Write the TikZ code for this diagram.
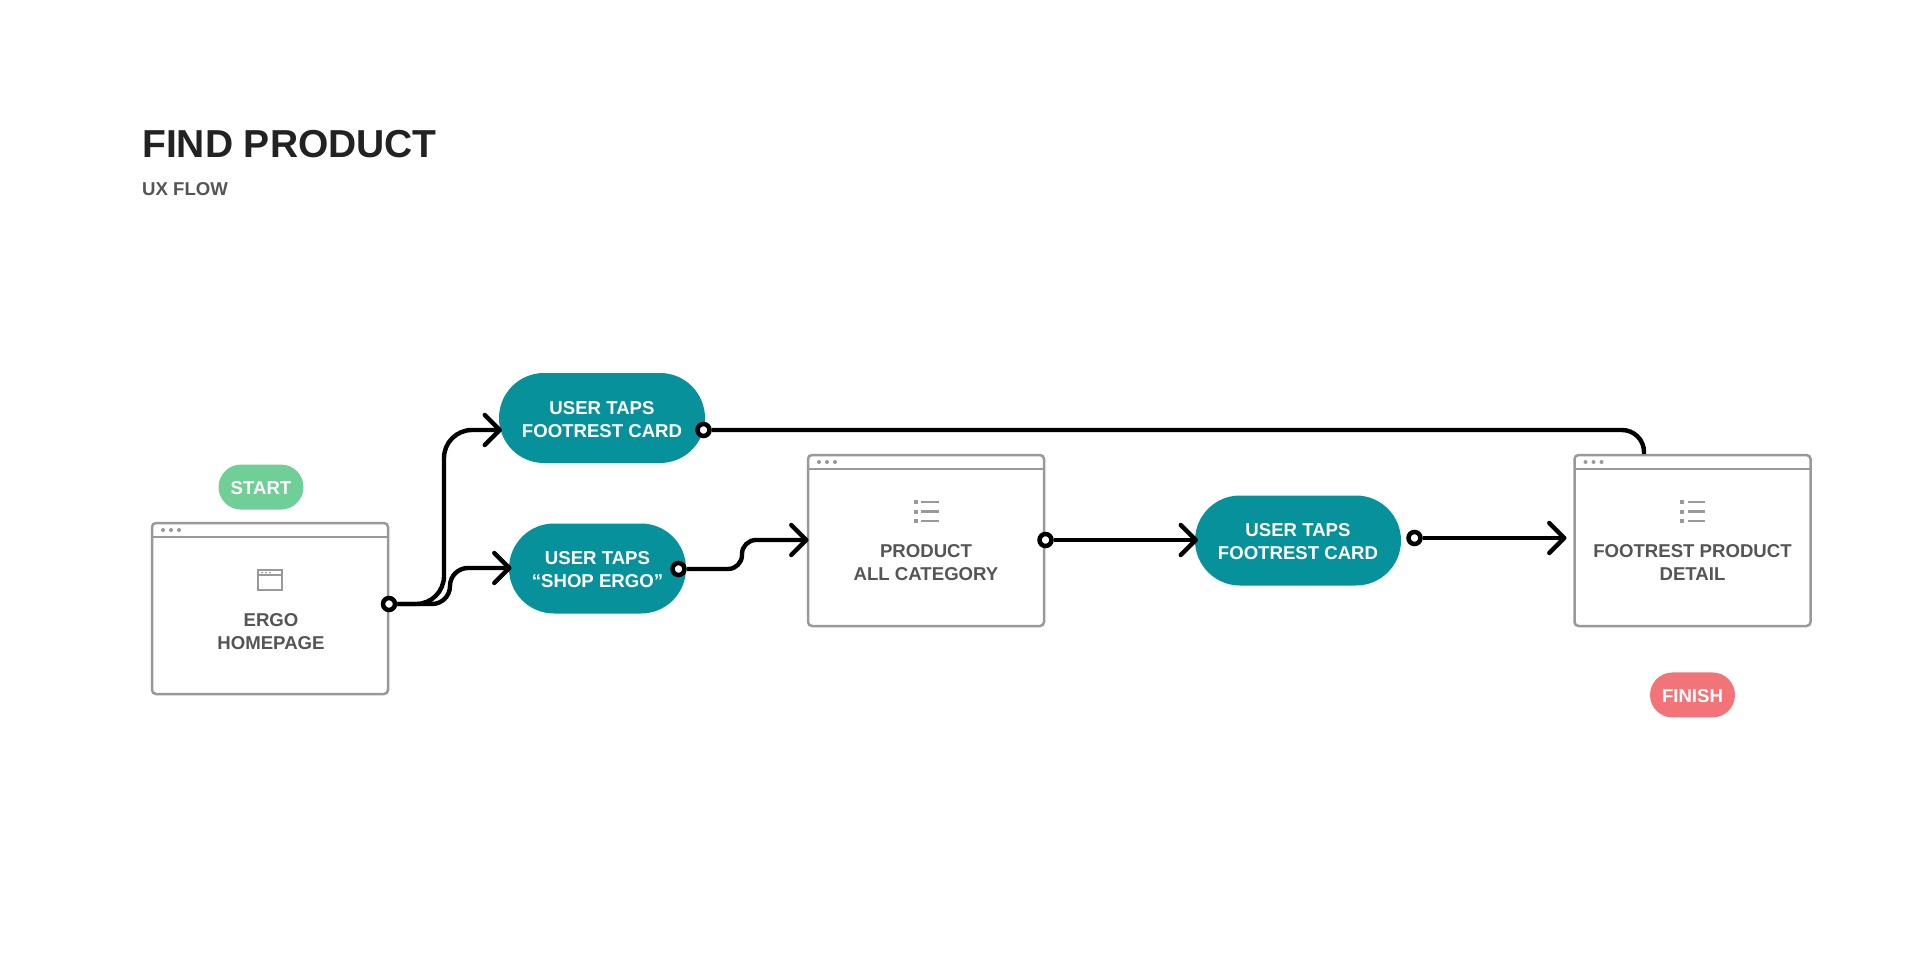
\documentclass[tikz,border=0pt]{standalone}
\usepackage{fontspec}
\setmainfont{Liberation Sans}
\usepackage{xcolor}
\definecolor{tealpill}{RGB}{7, 145, 155}
\definecolor{startgreen}{RGB}{112, 207, 151}
\definecolor{finishred}{RGB}{242, 116, 120}
\definecolor{framegray}{RGB}{153, 153, 153}
\definecolor{labelgray}{RGB}{85, 85, 85}
\definecolor{titleblack}{RGB}{34, 34, 34}
\usetikzlibrary{shapes.misc,arrows.meta,positioning,calc}

\begin{document}
\begin{tikzpicture}[
    x=1pt, y=-1pt,
    window/.style={rectangle, draw=framegray, line width=2.5pt, rounded corners=4pt, minimum width=236pt, minimum height=171pt, inner sep=0pt,
        path picture={
            \draw[framegray, line width=1.4pt] ($(path picture bounding box.north west)+(0,14)$) -- ($(path picture bounding box.north east)+(0,14)$);
            \foreach \dotx in {11,19,27}
                \fill[framegray] ($(path picture bounding box.north west)+(\dotx,7)$) circle (2pt);
        }},
    action/.style={rounded rectangle, fill=tealpill, text=white, minimum width=206pt, minimum height=90pt, inner sep=0pt, align=center, font=\fontsize{18.6}{23}\selectfont\bfseries, execute at begin node={\rule{0pt}{39pt}}},
    badge/.style={rounded rectangle, text=white, minimum width=85pt, minimum height=45pt, inner sep=0pt, font=\fontsize{18.6}{23}\selectfont\bfseries, execute at begin node={\rule{0pt}{15.5pt}}},
    pagetext/.style={align=center, inner sep=0pt, text=labelgray, font=\fontsize{18.6}{23}\selectfont\bfseries},
    port/.style={circle, draw=black, fill=white, line width=4.5pt, minimum size=12pt, inner sep=0pt},
    flow/.style={line width=4.4pt, black},
    arrow/.style={flow, -{Straight Barb[length=15pt, width=30pt, round]}},
    listicon/.pic={
        \foreach \rowy in {-9.5,0,9.5} {
            \fill[framegray] (-12.5,\rowy-2) rectangle (-8.5,\rowy+2);
            \draw[framegray, line width=2.2pt] (-5,\rowy) -- (12.5,\rowy);
        }
    },
    pageicon/.pic={
        \draw[framegray, line width=1.8pt] (-12,-10) rectangle (12,10);
        \draw[framegray, line width=1.4pt] (-12,-5) -- (12,-5);
        \foreach \dotx in {-8,-4,0}
            \fill[framegray] (\dotx,-7.5) circle (1pt);
    }
]
\useasboundingbox (0,0) rectangle (1920,955);

\node[anchor=west, inner sep=0pt, text=titleblack, font=\fontsize{39}{44}\selectfont\bfseries] (title) at (142,144) {FIND PRODUCT};
\node[anchor=west, inner sep=0pt, text=labelgray, font=\fontsize{18.6}{23}\selectfont\bfseries] (subtitle) at (142,189) {UX FLOW};

\node[window] (home) at (270,608.5) {};
\node[window] (category) at (926,540.5) {};
\node[window] (detail) at (1692.5,540.5) {};
\node[action] (tapcard) at (602,418) {USER TAPS\\FOOTREST CARD};
\node[action, minimum width=177pt] (tapshop) at (597.5,568.5) {USER TAPS\\“SHOP ERGO”};
\node[action] (tapfoot) at (1298,540.5) {USER TAPS\\FOOTREST CARD};
\node[badge, fill=startgreen, above=12pt of home, xshift=-9pt] (start) {START};
\node[badge, fill=finishred, below=45pt of detail] (finish) {FINISH};

\node[pagetext] (hometext) at ($(home.center)+(1,23)$) {ERGO\\HOMEPAGE};
\node[pagetext] (categorytext) at ($(category.center)+(0,22)$) {PRODUCT\\ALL CATEGORY};
\node[pagetext] (detailtext) at ($(detail.center)+(0,22)$) {FOOTREST PRODUCT\\DETAIL};

\pic at ($(home.center)+(0,-28.5)$) {pageicon};
\pic at ($(category.center)+(0,-29)$) {listicon};
\pic at ($(detail.center)+(0,-29)$) {listicon};

\node[port] (homeout) at (389,604) {};
\node[port] (cardout) at (703.5,430) {};
\node[port] (shopout) at (678.5,569) {};
\node[port] (categoryout) at (1045.5,540) {};
\node[port] (footout) at (1414.5,538) {};

\coordinate (cardin) at (502,430);
\coordinate (shopin) at (511.5,568);
\coordinate (categoryin) at (808.5,540);
\coordinate (footin) at (1198,540);
\coordinate (detailin) at (1566.5,538);
\coordinate (detailtop) at (1644,454);
\coordinate (spine) at (444,500);
\coordinate (bend) at (450,580);
\coordinate (wave) at (742,550);

\draw[arrow, rounded corners=28pt] (homeout) -- (homeout -| spine) -- (spine |- cardin) -- (cardin);
\draw[arrow, rounded corners=18pt] (homeout) -- (homeout -| bend) -- (bend |- shopin) -- (shopin);
\draw[arrow, rounded corners=14pt] (shopout) -- (shopout -| wave) -- (wave |- categoryin) -- (categoryin);
\draw[arrow] (categoryout) -- (footin);
\draw[arrow] (footout) -- (detailin);
\draw[flow, rounded corners=22pt] (cardout) -| (detailtop);

\end{tikzpicture}
\end{document}
